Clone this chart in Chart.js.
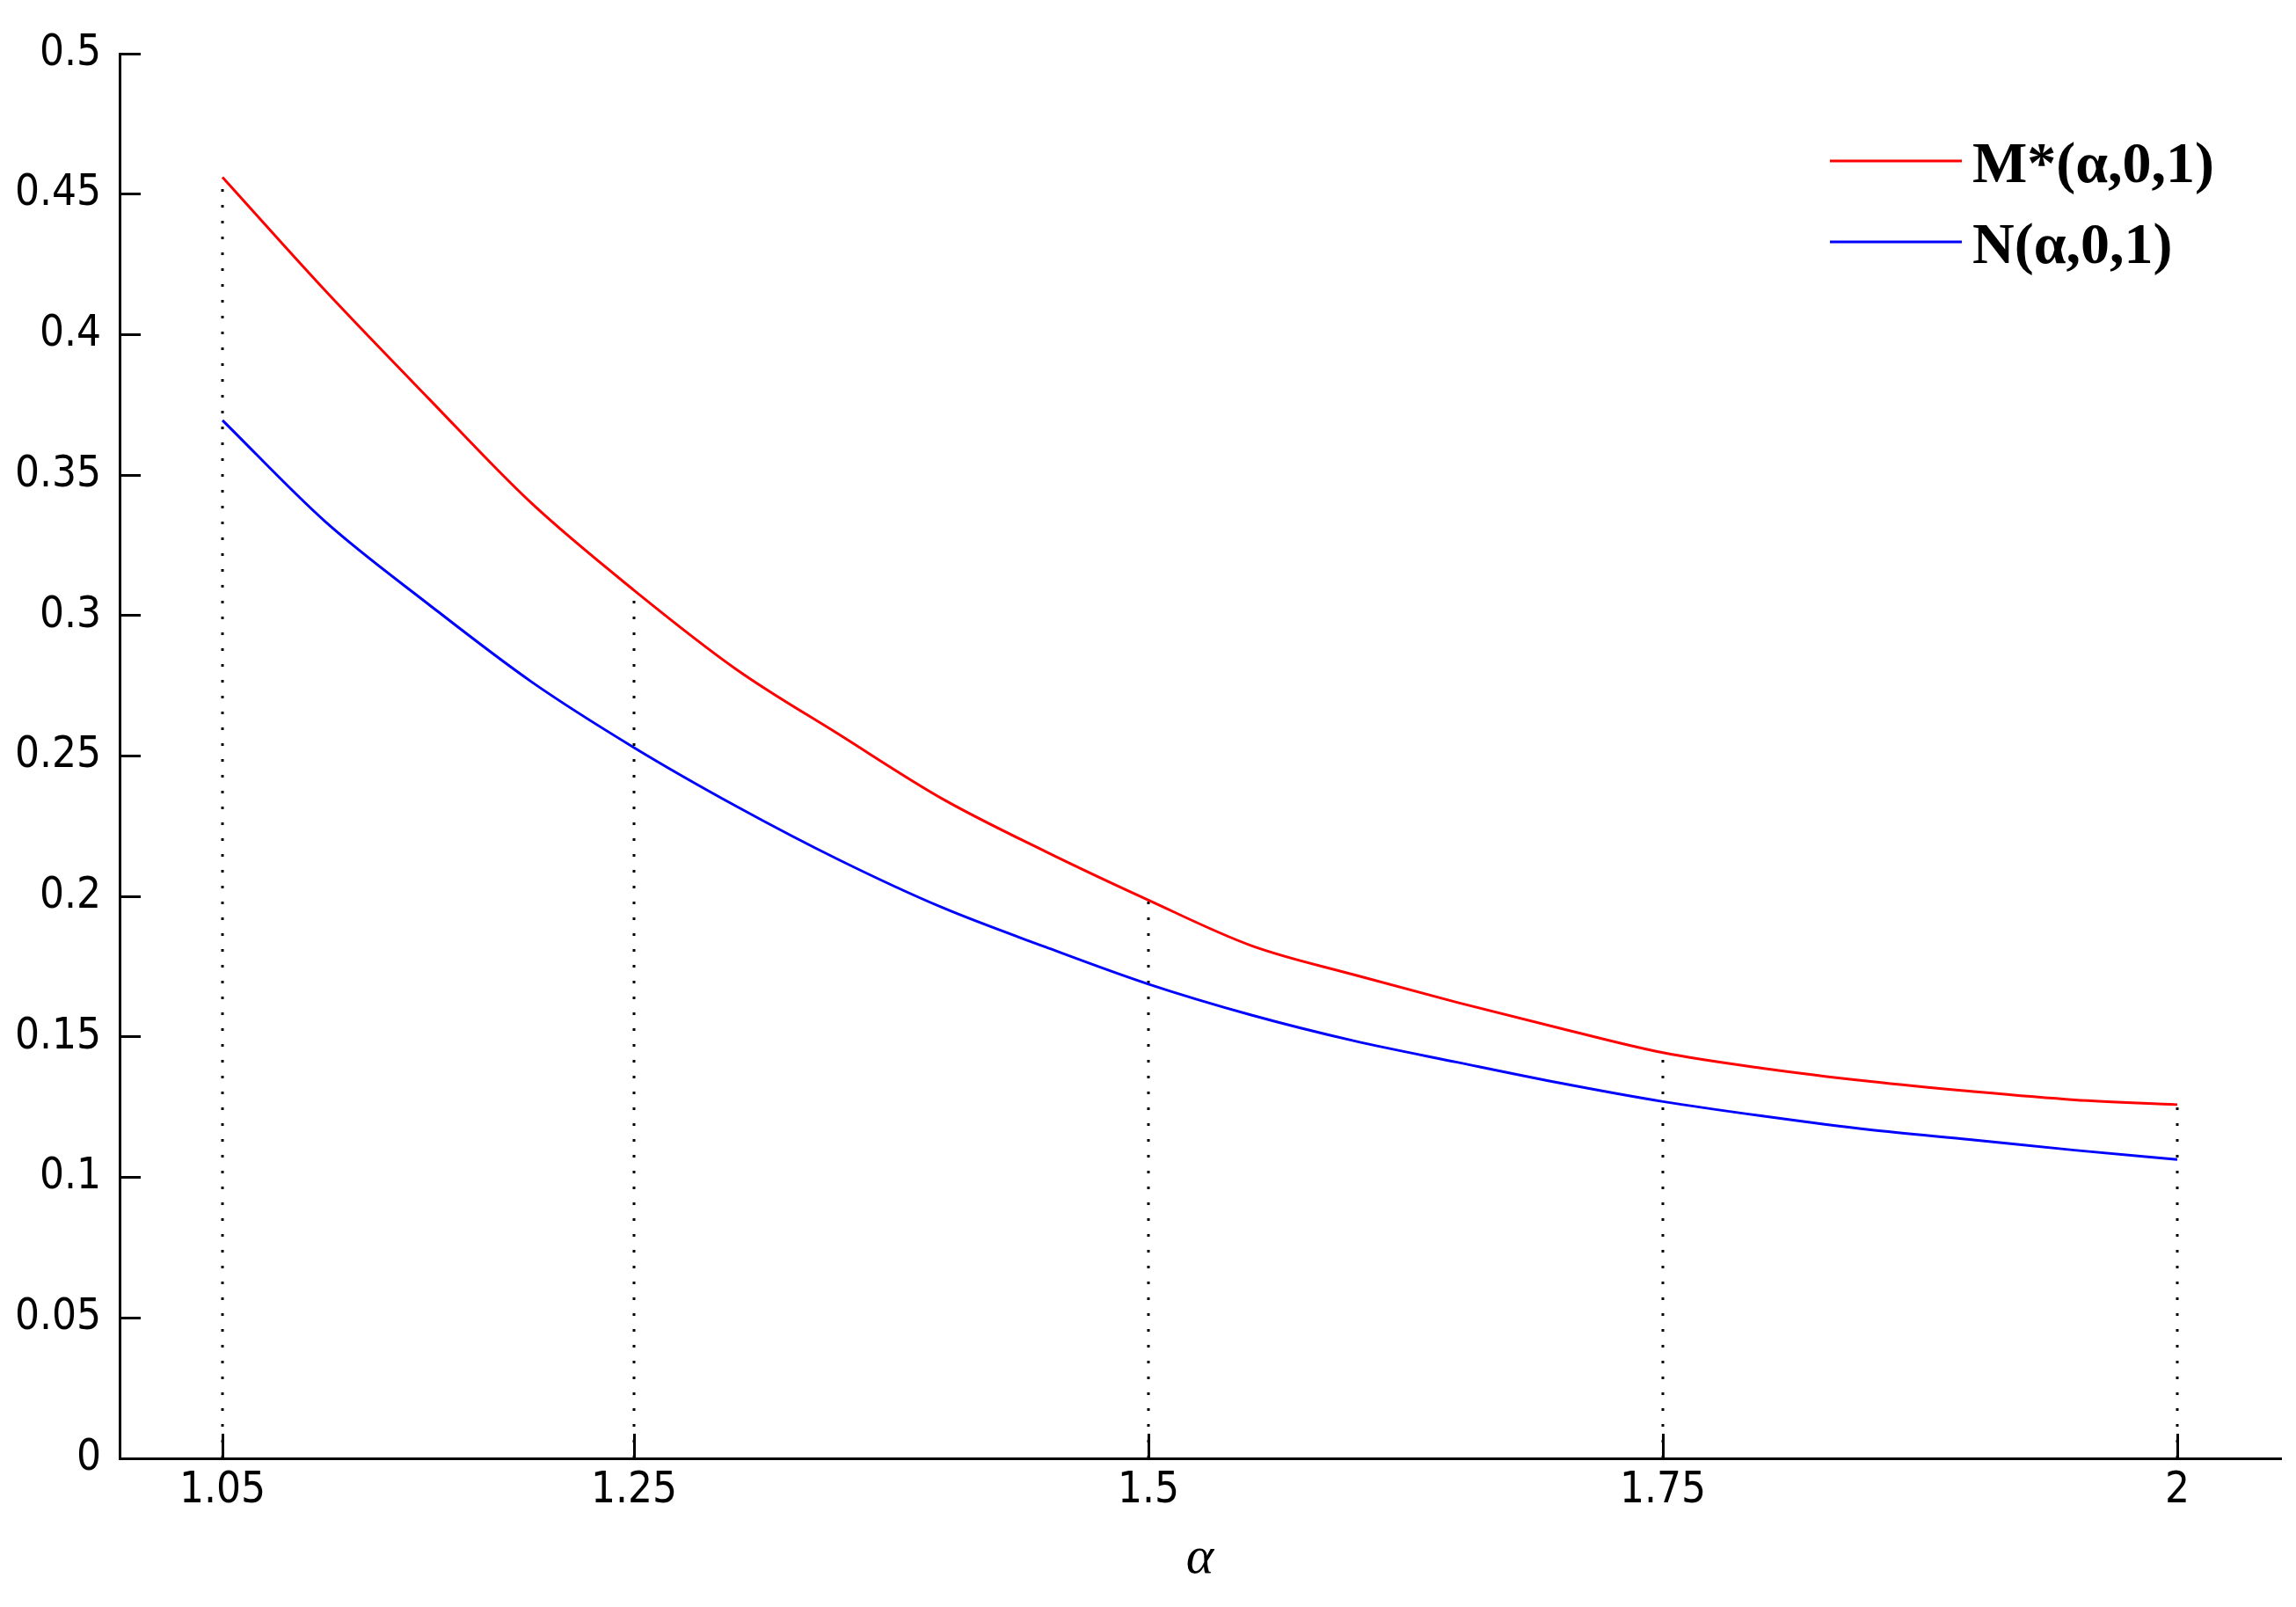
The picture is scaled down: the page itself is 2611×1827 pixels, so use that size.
<!DOCTYPE html>
<html>
<head>
<meta charset="utf-8">
<script src="https://cdn.jsdelivr.net/npm/chart.js@4.4.1/dist/chart.umd.min.js"></script>
<style>
  html, body { margin: 0; padding: 0; background: #fff; }
  canvas { display: block; }
</style>
</head>
<body>
<canvas id="stableChart" width="2611" height="1827"></canvas>
<script>
const alpha = [1.05, 1.1, 1.15, 1.2, 1.25, 1.3, 1.35, 1.4, 1.45, 1.5,
               1.55, 1.6, 1.65, 1.7, 1.75, 1.8, 1.85, 1.9, 1.95, 2];
const mStar = [0.456, 0.4156, 0.3774, 0.3401, 0.309, 0.2807, 0.2575, 0.2347, 0.216, 0.1987,
               0.1825, 0.1721, 0.1623, 0.1531, 0.1444, 0.1387, 0.1342, 0.1306, 0.1276, 0.1259];
const nAlpha = [0.3695, 0.3334, 0.3041, 0.2765, 0.253, 0.232, 0.2129, 0.196, 0.182, 0.1688,
                0.1578, 0.1486, 0.141, 0.1336, 0.127, 0.1217, 0.117, 0.1134, 0.1097, 0.1064];
const xTicks = [1.05, 1.25, 1.5, 1.75, 2];
const yTicks = [0, 0.05, 0.1, 0.15, 0.2, 0.25, 0.3, 0.35, 0.4, 0.45, 0.5];
const seriesLabels = ['M*(α,0,1)', 'N(α,0,1)'];

const tickFont = { family: "'Liberation Sans Narrow', 'DejaVu Sans Condensed', sans-serif", size: 49 };

// dotted drop lines from the axis up to the M* curve at each x tick
const guides = [];
xTicks.forEach(t => {
  const i = alpha.indexOf(t);
  guides.push({ x: t, y: 0 }, { x: t, y: mStar[i] }, { x: t, y: null });
});

// legend drawn inside the plot, top right
const legendInside = {
  id: 'legendInside',
  afterDraw(chart) {
    const ctx = chart.ctx;
    const x0 = 2081, y0 = 183, rowGap = 92;
    ctx.save();
    ctx.font = "bold 66px 'Liberation Serif', 'DejaVu Serif', serif";
    ctx.textBaseline = 'alphabetic';
    chart.data.datasets.filter(d => !d.isGuide).forEach((ds, k) => {
      const y = y0 + k * rowGap;
      ctx.strokeStyle = ds.borderColor;
      ctx.lineWidth = 3;
      ctx.beginPath();
      ctx.moveTo(x0, y);
      ctx.lineTo(x0 + 150, y);
      ctx.stroke();
      ctx.fillStyle = '#000';
      ctx.fillText(ds.label, x0 + 162, y + 24);
    });
    ctx.restore();
  }
};

const ctx = document.getElementById('stableChart').getContext('2d');
new Chart(ctx, {
  type: 'line',
  data: {
    datasets: [
      {
        label: seriesLabels[0],
        data: alpha.map((a, i) => ({ x: a, y: mStar[i] })),
        borderColor: '#ff0000',
        borderWidth: 3,
        pointRadius: 0,
        cubicInterpolationMode: 'monotone'
      },
      {
        label: seriesLabels[1],
        data: alpha.map((a, i) => ({ x: a, y: nAlpha[i] })),
        borderColor: '#0000ff',
        borderWidth: 3,
        pointRadius: 0,
        cubicInterpolationMode: 'monotone'
      },
      {
        label: 'guides',
        isGuide: true,
        data: guides,
        borderColor: '#000',
        borderWidth: 3,
        borderDash: [3, 15],
        pointRadius: 0,
        spanGaps: false
      }
    ]
  },
  options: {
    responsive: false,
    animation: false,
    layout: { padding: { left: 0, top: 61, right: 18, bottom: 0 } },
    plugins: {
      legend: { display: false },
      tooltip: { enabled: false }
    },
    scales: {
      x: {
        type: 'linear',
        min: 1.0,
        max: 2.05,
        afterBuildTicks: s => { s.ticks = xTicks.map(v => ({ value: v })); },
        afterFit: s => { s.height = 169; },
        ticks: {
          font: tickFont,
          color: '#000',
          padding: 36,
          autoSkip: false,
          maxRotation: 0,
          callback: v => String(v)
        },
        grid: { drawOnChartArea: false, drawTicks: true, tickLength: -28, color: '#000', lineWidth: 3 },
        border: { display: true, color: '#000', width: 3 },
        title: {
          display: true,
          text: 'α',
          color: '#000',
          font: { family: "'Liberation Serif', 'DejaVu Serif', serif", style: 'italic', size: 60 },
          padding: { top: 0, bottom: 19 }
        }
      },
      y: {
        min: 0,
        max: 0.5,
        afterBuildTicks: s => { s.ticks = yTicks.map(v => ({ value: v })); },
        // fixed width; label overflow above the top tick is covered by layout padding
        afterFit: s => { s.width = 136; s.paddingTop = 30; s.paddingBottom = 0; },
        ticks: {
          font: tickFont,
          color: '#000',
          padding: 45,
          callback: v => String(+v.toFixed(2))
        },
        grid: { drawOnChartArea: false, drawTicks: true, tickLength: -24, color: '#000', lineWidth: 3 },
        border: { display: true, color: '#000', width: 3 }
      }
    }
  },
  plugins: [legendInside]
});
</script>
</body>
</html>
